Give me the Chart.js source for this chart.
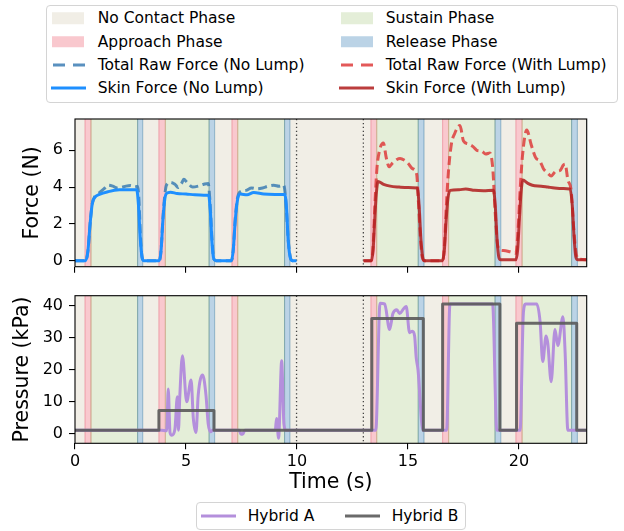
<!DOCTYPE html>
<html>
<head>
<meta charset="utf-8">
<script src="https://cdn.jsdelivr.net/npm/chart.js@4.4.1/dist/chart.umd.min.js"></script>
<style>
body{margin:0;background:#fff;width:624px;height:531px;position:relative;overflow:hidden;font-family:"DejaVu Sans",sans-serif;}
canvas{position:absolute;left:0;}
.legend{position:absolute;border:1px solid #d4d4d4;border-radius:4px;background:#fff;box-sizing:border-box;}
.txt{position:absolute;font-size:15.5px;line-height:18px;color:#000;white-space:nowrap;transform:translateY(-50%);}
.sw{position:absolute;transform:translateY(-50%);}
</style>
</head>
<body>
<div class="legend" id="topLegend" style="left:46px;top:5px;width:572px;height:98px;"></div>
<canvas id="force" width="624" height="170" style="top:110px"></canvas>
<canvas id="pressure" width="624" height="215" style="top:285px"></canvas>
<div class="legend" id="botLegend" style="left:196px;top:502px;width:270px;height:28px;"></div>
<script>
// phase boundaries (s) and the phase that fills each gap
const phaseBounds = [0, 0.45, 0.72, 2.82, 3.05, 3.78, 4.07, 6.04, 6.29, 7.07, 7.33, 9.44, 9.68,
  13.33, 13.59, 15.46, 15.72, 16.56, 16.83, 18.92, 19.18, 19.86, 20.14, 22.37, 22.63, 23.05];
const phaseKinds = ['none','approach','sustain','release','none','approach','sustain','release',
  'none','approach','sustain','release','none','approach','sustain','release','none','approach',
  'sustain','release','none','approach','sustain','release','none'];
const dividerTimes = [9.98, 12.99];
const timeTicks = [0, 5, 10, 15, 20];
const forceTicks = [0, 2, 4, 6];
const pressureTicks = [0, 10, 20, 30, 40];

// force, no lump
const tSkinNL = [0, 0.48, 0.58, 0.68, 0.78, 0.9, 1.1, 1.5, 2.0, 2.5, 2.78, 2.86, 2.94, 3.02, 3.1,
  3.8, 3.88, 3.96, 4.04, 4.12, 4.3, 4.6, 5.0, 5.4, 5.8, 6.02, 6.1, 6.17, 6.25, 6.35,
  7.05, 7.13, 7.22, 7.32, 7.45, 7.75, 8.05, 8.5, 9.0, 9.45, 9.53, 9.61, 9.7, 9.8, 9.98];
const skinNL = [0, 0, 0.5, 2.0, 3.1, 3.45, 3.6, 3.75, 3.85, 3.86, 3.85, 3.0, 1.2, 0.2, 0,
  0, 0.6, 2.2, 3.3, 3.65, 3.72, 3.65, 3.62, 3.58, 3.56, 3.55, 2.6, 1.0, 0.1, 0,
  0, 0.6, 2.2, 3.3, 3.62, 3.58, 3.7, 3.62, 3.6, 3.6, 2.8, 1.0, 0.15, 0, 0];
const tRawNL = [0, 0.48, 0.58, 0.68, 0.78, 0.9, 1.1, 1.3, 1.5, 1.7, 1.9, 2.1, 2.3, 2.5, 2.7, 2.82, 2.88, 2.95, 3.02, 3.1,
  3.8, 3.88, 3.96, 4.04, 4.12, 4.3, 4.5, 4.65, 4.8, 4.9, 5.05, 5.3, 5.55, 5.8, 6.0, 6.08, 6.17, 6.25, 6.35,
  7.05, 7.13, 7.22, 7.32, 7.45, 7.7, 7.95, 8.2, 8.45, 8.7, 8.95, 9.2, 9.4, 9.5, 9.6, 9.7, 9.8, 9.98];
const rawNL = [0, 0, 0.5, 2.0, 3.1, 3.5, 3.7, 3.9, 4.1, 4.05, 3.95, 3.98, 4.05, 4.08, 4.0, 4.05, 3.3, 1.3, 0.2, 0,
  0, 0.6, 2.3, 3.5, 4.1, 4.25, 4.15, 3.98, 4.2, 4.42, 4.25, 4.0, 4.05, 4.15, 4.2, 3.2, 1.2, 0.1, 0,
  0, 0.6, 2.3, 3.4, 3.75, 3.82, 3.95, 3.9, 3.95, 4.05, 4.1, 4.05, 4.1, 3.2, 1.2, 0.2, 0, 0];

// force, with lump
const tSkinWL = [13.0, 13.35, 13.43, 13.5, 13.57, 13.65, 13.9, 14.2, 14.6, 15.0, 15.42, 15.5, 15.58, 15.66, 15.74,
  16.56, 16.64, 16.72, 16.8, 16.9, 17.3, 17.6, 18.0, 18.4, 18.85, 18.93, 19.01, 19.09, 19.17,
  19.86, 19.94, 20.02, 20.1, 20.17, 20.4, 20.6, 21.0, 21.3, 21.6, 22.0, 22.3, 22.4, 22.48, 22.56, 22.65, 23.05];
const skinWL = [0, 0, 0.6, 2.2, 3.6, 4.3, 4.15, 4.05, 4.0, 3.97, 3.95, 3.0, 1.2, 0.2, 0,
  0, 0.6, 2.2, 3.4, 3.82, 3.85, 3.9, 3.82, 3.8, 3.82, 3.0, 1.2, 0.2, 0.05,
  0.05, 0.6, 2.3, 3.8, 4.38, 4.2, 4.1, 4.05, 4.0, 3.95, 3.92, 3.9, 3.0, 1.3, 0.2, 0.05, 0.05];
const tRawWL = [13.0, 13.35, 13.43, 13.5, 13.6, 13.72, 13.89, 14.02, 14.15, 14.3, 14.5, 14.64, 14.85, 15.0, 15.2, 15.39,
  15.47, 15.56, 15.64, 15.74, 16.56, 16.64, 16.72, 16.82, 16.95, 17.1, 17.34, 17.5, 17.7, 17.93, 18.1, 18.32, 18.5,
  18.69, 18.82, 18.92, 19.02, 19.12, 19.3, 19.6, 19.86, 19.95, 20.05, 20.15, 20.35, 20.55, 20.75, 20.95, 21.1, 21.3,
  21.45, 21.65, 21.85, 22.0, 22.08, 22.2, 22.35, 22.45, 22.55, 22.65, 23.05];
const rawWL = [0, 0, 0.8, 2.8, 5.0, 6.0, 6.4, 5.6, 5.1, 5.3, 5.5, 5.55, 5.45, 5.3, 5.0, 4.7,
  3.2, 1.2, 0.2, 0, 0, 0.8, 2.8, 4.8, 6.3, 6.9, 7.35, 6.5, 6.35, 6.2, 6.0, 5.95, 5.8,
  5.85, 5.0, 2.8, 1.0, 0.6, 0.55, 0.48, 0.4, 1.5, 3.8, 5.6, 7.1, 6.3, 5.6, 5.4, 5.0, 4.75,
  4.6, 4.85, 4.9, 5.2, 5.25, 4.4, 3.8, 2.0, 0.6, 0.1, 0.05];

// pressure
const tHybA = [0, 3.9, 4.13, 4.2, 4.28, 4.36, 4.5, 4.61, 4.66, 4.72, 4.84, 5.03, 5.23, 5.33, 5.45, 5.55, 5.75, 5.9, 6.0, 6.11, 6.2,
  7.4, 7.48, 7.56, 7.65, 9.02, 9.08, 9.17, 9.31, 9.41, 9.5,
  13.55, 13.74, 13.95, 14.17, 14.32, 14.5, 14.62, 14.8, 14.92, 15.07, 15.2, 15.3, 15.37, 15.45, 15.67,
  16.74, 16.89, 18.81, 19.0,
  20.05, 20.2, 20.3, 20.8, 20.95, 21.07, 21.22, 21.3, 21.45, 21.62, 21.75, 21.98, 22.08, 22.2, 23.05];
const hybA = [1, 1, 0.8, 13.9, 0.3, -0.6, 1.3, 11.5, 1.0, 11.5, 24.3, 9.9, 16.7, 4.7, 0.3, 12, 18.3, 12, 3, 0.5, 1,
  1, -0.3, -0.2, 1, 1, 4.7, -1.5, 22.7, 3, 1,
  1, 40.7, 40.5, 32.5, 37.5, 38.7, 37.5, 39, 39.7, 31.5, 32, 30.4, 23.7, 20, 1,
  1, 40.5, 40.5, 1,
  1, 38, 40.5, 40.5, 35, 22.5, 30.5, 28, 16.2, 32.5, 27.5, 36.5, 25, 1, 1];
const tHybB = [0, 3.78, 6.26, 13.37, 15.69, 16.56, 19.14, 19.89, 22.6, 23.05];
const hybB = [1, 7.2, 1, 36, 1, 40.5, 1, 34.5, 1, 1];

const FONT = '"DejaVu Sans", sans-serif';
const pts = (t, v) => t.map((x, i) => ({x: x, y: v[i]}));

const phaseStyle = {
  none:     {fill: '#f1eee6', edge: 'rgba(200,190,160,0.35)'},
  approach: {fill: '#f9c8ce', edge: 'rgba(230,100,120,0.5)'},
  sustain:  {fill: '#e4eed8', edge: 'rgba(170,190,110,0.45)'},
  release:  {fill: '#bbd3e6', edge: 'rgba(70,130,170,0.55)'}
};

const phasePlugin = {
  id: 'phases',
  beforeDatasetsDraw(chart) {
    const {ctx, chartArea: a, scales: {x}} = chart;
    ctx.save();
    ctx.beginPath(); ctx.rect(a.left, a.top, a.right - a.left, a.bottom - a.top); ctx.clip();
    for (let i = 0; i < phaseKinds.length; i++) {
      const x0 = x.getPixelForValue(phaseBounds[i]), x1 = x.getPixelForValue(phaseBounds[i + 1]);
      ctx.fillStyle = phaseStyle[phaseKinds[i]].fill;
      ctx.fillRect(x0, a.top, x1 - x0, a.bottom - a.top);
    }
    ctx.lineWidth = 1;
    for (let i = 0; i < phaseKinds.length; i++) {
      if (phaseKinds[i] == 'none') continue;
      ctx.strokeStyle = phaseStyle[phaseKinds[i]].edge;
      [phaseBounds[i], phaseBounds[i + 1]].forEach(b => {
        const px = x.getPixelForValue(b);
        ctx.beginPath(); ctx.moveTo(px, a.top); ctx.lineTo(px, a.bottom); ctx.stroke();
      });
    }
    ctx.strokeStyle = 'rgba(40,40,40,0.85)';
    ctx.lineWidth = 1.3;
    ctx.setLineDash([1.3, 2.6]);
    dividerTimes.forEach(t => {
      const px = x.getPixelForValue(t);
      ctx.beginPath(); ctx.moveTo(px, a.top); ctx.lineTo(px, a.bottom); ctx.stroke();
    });
    ctx.restore();
  },
  afterDraw(chart) {
    const {ctx, chartArea: a} = chart;
    ctx.save();
    ctx.strokeStyle = '#000'; ctx.lineWidth = 1.1;
    ctx.strokeRect(a.left, a.top, a.right - a.left, a.bottom - a.top);
    ctx.restore();
  }
};

function setTicks(list) {
  return s => { s.ticks = list.map(v => ({value: v})); };
}

function baseX(showLabels, h) {
  return {
    type: 'linear', min: 0, max: 23.05,
    afterBuildTicks: setTicks(timeTicks),
    ticks: {display: showLabels, color: '#000', font: {family: FONT, size: 16}, padding: 3, maxRotation: 0},
    grid: {drawOnChartArea: false, drawTicks: true, tickLength: 6, color: '#000', lineWidth: 1.1},
    border: {display: false},
    afterFit: s => { s.height = h; s.paddingLeft = 0; s.paddingRight = 0; }
  };
}

function baseY(min, max, ticks, label, titlePad) {
  return {
    min: min, max: max,
    afterBuildTicks: setTicks(ticks),
    ticks: {color: '#000', font: {family: FONT, size: 16}, padding: 6},
    grid: {drawOnChartArea: false, drawTicks: true, tickLength: 6, color: '#000', lineWidth: 1.1},
    border: {display: false},
    title: {display: true, text: label, color: '#000', font: {family: FONT, size: 20.5}, padding: {top: titlePad, bottom: 0}},
    afterFit: s => { s.width = 75; s.paddingTop = 0; s.paddingBottom = 0; }
  };
}

const common = {
  responsive: false, animation: false, devicePixelRatio: 1,
  plugins: {legend: {display: false}, tooltip: {enabled: false}},
  elements: {point: {radius: 0}, line: {borderJoinStyle: 'round', cubicInterpolationMode: 'monotone'}}
};

new Chart(document.getElementById('force'), {
  type: 'line',
  data: {datasets: [
    {label: 'Skin Force (No Lump)', data: pts(tSkinNL, skinNL), borderColor: '#1e8fff', borderWidth: 3},
    {label: 'Skin Force (With Lump)', data: pts(tSkinWL, skinWL), borderColor: 'rgba(178,34,34,0.88)', borderWidth: 3},
    {label: 'Total Raw Force (No Lump)', data: pts(tRawNL, rawNL), borderColor: 'rgba(60,125,180,0.85)', borderWidth: 3, borderDash: [9, 4.5]},
    {label: 'Total Raw Force (With Lump)', data: pts(tRawWL, rawWL), borderColor: 'rgba(222,60,60,0.85)', borderWidth: 3, borderDash: [9, 4.5]}
  ]},
  options: Object.assign({}, common, {
    layout: {padding: {top: 9, right: 37.3, bottom: 0, left: 0}},
    scales: {x: baseX(false, 13.3), y: baseY(-0.33, 7.7, forceTicks, 'Force (N)', 20.5)}
  }),
  plugins: [phasePlugin]
});

new Chart(document.getElementById('pressure'), {
  type: 'line',
  data: {datasets: [
    {label: 'Hybrid B', data: pts(tHybB, hybB), borderColor: 'rgba(90,90,90,0.9)', borderWidth: 3, stepped: true},
    {label: 'Hybrid A', data: pts(tHybA, hybA), borderColor: '#b48fdc', borderWidth: 3}
  ]},
  options: Object.assign({}, common, {
    layout: {padding: {top: 10.7, right: 37.3, bottom: 0, left: 0}},
    scales: {
      x: Object.assign(baseX(true, 56.7), {title: {display: true, text: 'Time (s)', color: '#000', font: {family: FONT, size: 20.5}, padding: {top: 0, bottom: 5}}}),
      y: baseY(-3.1, 43.1, pressureTicks, 'Pressure (kPa)', 10)
    }
  }),
  plugins: [phasePlugin]
});

// legends
const topItems = [
  {label: 'No Contact Phase', kind: 'patch', color: '#f1eee6', col: 0, row: 0},
  {label: 'Approach Phase', kind: 'patch', color: '#f9c8ce', col: 0, row: 1},
  {label: 'Total Raw Force (No Lump)', kind: 'dash', color: 'rgba(60,125,180,0.85)', col: 0, row: 2},
  {label: 'Skin Force (No Lump)', kind: 'line', color: '#1e8fff', col: 0, row: 3},
  {label: 'Sustain Phase', kind: 'patch', color: '#e4eed8', col: 1, row: 0},
  {label: 'Release Phase', kind: 'patch', color: '#bbd3e6', col: 1, row: 1},
  {label: 'Total Raw Force (With Lump)', kind: 'dash', color: 'rgba(222,60,60,0.85)', col: 1, row: 2},
  {label: 'Skin Force (With Lump)', kind: 'line', color: 'rgba(178,34,34,0.88)', col: 1, row: 3}
];
const botItems = [
  {label: 'Hybrid A', kind: 'line', color: '#b48fdc', x: 200.7, tx: 247.7},
  {label: 'Hybrid B', kind: 'line', color: 'rgba(90,90,90,0.9)', x: 345, tx: 391.7}
];

function swatch(item, x, y) {
  const d = document.createElement('div');
  d.className = 'sw';
  d.style.left = x + 'px'; d.style.top = y + 'px';
  if (item.kind == 'patch') {
    d.style.width = '32px'; d.style.height = '11.5px'; d.style.background = item.color;
  } else if (item.kind == 'dash') {
    d.style.left = (x + 0.5) + 'px';
    d.style.width = '32px'; d.style.height = '3px';
    d.style.background = 'linear-gradient(to right,' + item.color + ' 0 12px, transparent 12px 20px,' + item.color + ' 20px 32px)';
  } else {
    d.style.left = (x - 1.5) + 'px';
    d.style.width = '35px'; d.style.height = '3px'; d.style.background = item.color;
  }
  document.body.appendChild(d);
}
function text(label, x, y) {
  const d = document.createElement('div');
  d.className = 'txt';
  d.textContent = label;
  d.style.left = x + 'px'; d.style.top = y + 'px';
  document.body.appendChild(d);
}
topItems.forEach(it => {
  const y = 18.3 + it.row * 23.3;
  swatch(it, it.col ? 340.5 : 52, y);
  text(it.label, it.col ? 385.7 : 97.7, y);
});
botItems.forEach(it => {
  swatch(it, it.x + 1.5, 515.7);
  text(it.label, it.tx, 515.7);
});
</script>
</body>
</html>
